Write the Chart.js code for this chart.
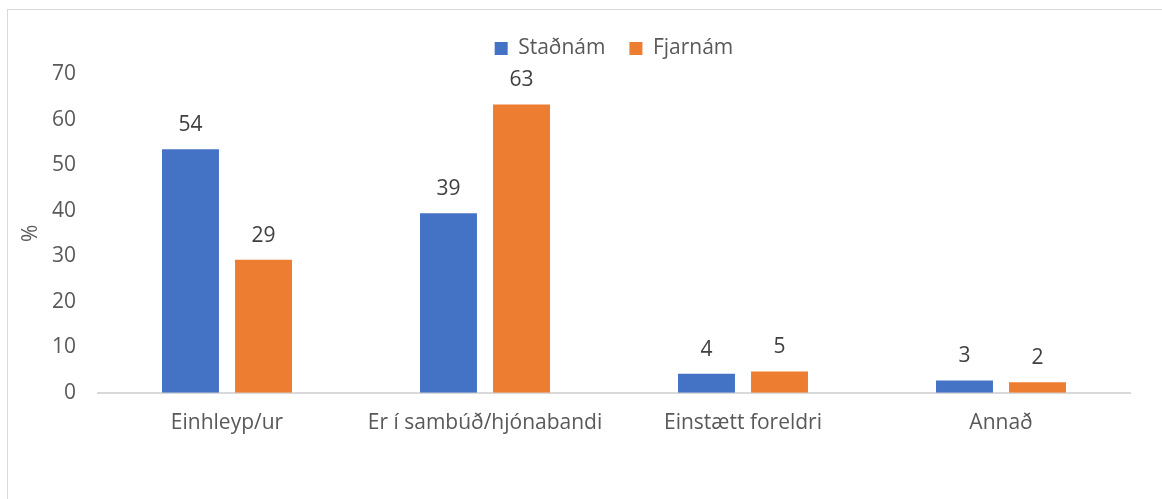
<!DOCTYPE html>
<html>
<head>
<meta charset="utf-8">
<script src="https://cdn.jsdelivr.net/npm/chart.js@4/dist/chart.umd.min.js"></script>
<style>
  html, body { margin: 0; padding: 0; background: #fff; overflow: hidden; }
  #frame { position: absolute; left: 7px; top: 9px; width: 1200px; height: 520px; border: 1px solid #d9d9d9; }
  #wrap { position: absolute; left: 0; top: 0; width: 1162px; height: 499px; }
</style>
</head>
<body>
<div id="frame"></div>
<div id="wrap"><canvas id="myChart"></canvas></div>
<script>
const categories = ['Einhleyp/ur', 'Er í sambúð/hjónabandi', 'Einstætt foreldri', 'Annað'];
const stadnam = [53.5, 39.4, 4.2, 2.7];
const fjarnam = [29.2, 63.3, 4.7, 2.3];
const yTicks = [0, 10, 20, 30, 40, 50, 60, 70];

const textColor = '#595959';
const fontFamily = '"Open Sans", "DejaVu Sans", sans-serif';
const fontSize = 21;

// einföld merki ofan á súlurnar
const barLabels = {
  id: 'barLabels',
  afterDatasetsDraw(chart) {
    const ctx = chart.ctx;
    ctx.save();
    ctx.font = fontSize + 'px ' + fontFamily;
    ctx.fillStyle = '#404040';
    ctx.textAlign = 'center';
    ctx.textBaseline = 'middle';
    chart.data.datasets.forEach((ds, i) => {
      chart.getDatasetMeta(i).data.forEach((bar, j) => {
        ctx.fillText(Math.round(ds.data[j]), bar.x, bar.y - 24);
      });
    });
    ctx.restore();
  }
};

const ctx = document.getElementById('myChart').getContext('2d');

new Chart(ctx, {
  type: 'bar',
  data: {
    labels: categories,
    datasets: [
      { label: 'Staðnám', data: stadnam, backgroundColor: '#4472C4' },
      { label: 'Fjarnám', data: fjarnam, backgroundColor: '#ED7D31' }
    ]
  },
  options: {
    responsive: true,
    maintainAspectRatio: false,
    animation: false,
    categoryPercentage: 0.566,
    barPercentage: 0.78,
    layout: { padding: { left: 0, right: 32, top: 14, bottom: 45 } },
    plugins: {
      legend: {
        position: 'top',
        fullSize: false,
        labels: {
          boxWidth: 13,
          boxHeight: 13,
          padding: 24,
          color: textColor,
          font: { family: fontFamily, size: fontSize }
        }
      },
      // tómur titill undir skýringunni, bara til að fá smá bil
      title: {
        display: true,
        text: '',
        weight: 500,
        padding: 0,
        font: { size: 5, lineHeight: 1 }
      },
      tooltip: { enabled: false }
    },
    scales: {
      x: {
        grid: { display: false, drawTicks: false },
        border: { color: '#d9d9d9', width: 2 },
        ticks: {
          color: textColor,
          padding: 18,
          autoSkip: false,
          maxRotation: 0,
          minRotation: 0,
          font: { family: fontFamily, size: fontSize }
        }
      },
      y: {
        min: 0,
        max: 70,
        afterBuildTicks: (scale) => { scale.ticks = yTicks.map(v => ({ value: v })); },
        afterFit: (scale) => { scale.width = 98; },
        grid: { display: false, drawTicks: false },
        border: { display: false },
        ticks: {
          color: textColor,
          padding: 22,
          font: { family: fontFamily, size: fontSize }
        },
        title: {
          display: true,
          text: '%',
          color: textColor,
          padding: { top: 18, bottom: 0 },
          font: { family: fontFamily, size: fontSize }
        }
      }
    }
  },
  plugins: [barLabels]
});
</script>
</body>
</html>
